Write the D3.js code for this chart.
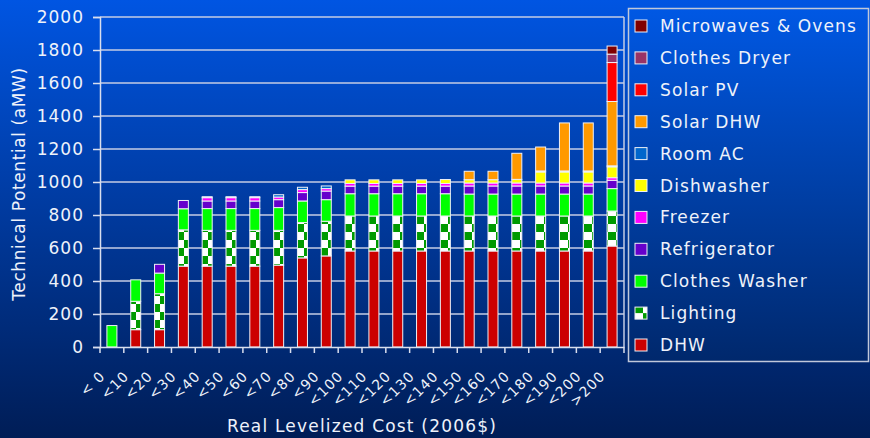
<!DOCTYPE html>
<html><head><meta charset="utf-8">
<script src="https://cdn.jsdelivr.net/npm/d3@7"></script>
<style>html,body{margin:0;padding:0;background:#001f5a;}svg{display:block;}</style>
</head><body>
<svg id="chart" width="870" height="438"></svg>
<script>
const categories = ["< 0","<10","<20","<30","<40","<50","<60","<70","<80","<90","<100","<110","<120","<130","<140","<150","<160","<170","<180","<190","<200",">200"];
const seriesNames = ["DHW","Lighting","Clothes Washer","Refrigerator","Freezer","Dishwasher","Room AC","Solar DHW","Solar PV","Clothes Dryer","Microwaves & Ovens"];
const DHW          = [0,105,105,490,490,490,490,496,540,552,582,582,582,582,582,582,582,582,582,582,582,612];
const Lighting     = [0,172,218,220,217,217,217,211,214,210,212,212,212,212,212,212,212,212,212,212,212,212];
const ClothesWasher= [130,130,125,128,132,132,132,138,131,131,135,135,135,135,135,133,133,133,133,133,133,136];
const Refrigerator = [0,0,53,50,46,46,46,48,51,52,46,46,46,46,46,49,49,49,49,49,49,50];
const Freezer      = [0,0,0,0,20,20,20,16,18,15,16,16,16,16,16,18,18,18,18,18,18,16];
const Dishwasher   = [0,0,0,0,0,0,0,0,0,0,22,22,22,22,24,20,20,22,67,67,67,66];
const RoomAC       = [0,0,0,0,6,6,6,14,14,16,0,0,0,0,0,0,0,0,6,6,6,6];
const SolarDHW     = [0,0,0,0,0,0,0,0,0,0,0,0,0,0,0,51,51,158,145,291,291,390];
const SolarPV      = [0,0,0,0,0,0,0,0,0,0,0,0,0,0,0,0,0,0,0,0,0,236];
const ClothesDryer = [0,0,0,0,0,0,0,0,0,0,0,0,0,0,0,0,0,0,0,0,0,51];
const Microwaves   = [0,0,0,0,0,0,0,0,0,0,0,0,0,0,0,0,0,0,0,0,0,49];
const yTicks = [0,200,400,600,800,1000,1200,1400,1600,1800,2000];
const seriesValues = [DHW,Lighting,ClothesWasher,Refrigerator,Freezer,Dishwasher,RoomAC,SolarDHW,SolarPV,ClothesDryer,Microwaves];
const colors = ["#cc0000","url(#light)","#00ff00","#6600cc","#ff00ff","#ffff00","#0066cc","#ff9900","#ff0000","#993366","#800000"];

const FONT = "DejaVu Sans, Verdana, sans-serif";
const svg = d3.select("#chart");
const defs = svg.append("defs");
const bg = defs.append("linearGradient").attr("id","bg").attr("x1",0).attr("y1",0).attr("x2",0).attr("y2",1);
bg.append("stop").attr("offset","0%").attr("stop-color","#0055e2");
bg.append("stop").attr("offset","100%").attr("stop-color","#001d56");
const lg = defs.append("linearGradient").attr("id","lg").attr("x1",0).attr("y1",0).attr("x2",0).attr("y2",1);
lg.append("stop").attr("offset","0%").attr("stop-color","#0058e4");
lg.append("stop").attr("offset","100%").attr("stop-color","#00286c");
const pat = defs.append("pattern").attr("id","light").attr("patternUnits","userSpaceOnUse").attr("width",16).attr("height",16);
pat.append("rect").attr("width",16).attr("height",16).attr("fill","#ffffff");
pat.append("rect").attr("x",8).attr("y",0).attr("width",8).attr("height",8).attr("fill","#009a00");
pat.append("rect").attr("x",0).attr("y",8).attr("width",8).attr("height",8).attr("fill","#009a00");

svg.append("rect").attr("width",870).attr("height",438).attr("fill","url(#bg)");

const x = d3.scaleBand().domain(categories).range([100,624]).paddingInner(0.58).paddingOuter(0.29);
const y = d3.scaleLinear().domain([0,2000]).range([347,17]);

// gridlines
svg.append("g").selectAll("line").data(yTicks.filter(d=>d>0)).join("line")
  .attr("x1",100).attr("x2",624).attr("y1",d=>y(d)).attr("y2",d=>y(d))
  .attr("stroke","#c4cce4").attr("stroke-width",1.5);
svg.append("line").attr("x1",624).attr("x2",624).attr("y1",y(2000)).attr("y2",y(0)).attr("stroke","#c4cce4").attr("stroke-width",1.5);

// stacked bars
const table = categories.map((c,i)=>{const o={cat:c}; seriesNames.forEach((s,k)=>o[s]=seriesValues[k][i]); return o;});
const stack = d3.stack().keys(seriesNames)(table);
svg.append("g").selectAll("g").data(stack).join("g")
  .attr("fill",(d,i)=>colors[i])
  .selectAll("rect").data(d=>d.filter(p=>p[1]-p[0]>0)).join("rect")
  .attr("x",d=>x(d.data.cat)).attr("width",x.bandwidth())
  .attr("y",d=>y(d[1])).attr("height",d=>y(d[0])-y(d[1]))
  .attr("stroke","#eef0f6").attr("stroke-width",1);

// axes
const axCol = "#d8deee";
const yAxis = svg.append("g").attr("transform","translate(100,0)")
  .call(d3.axisLeft(y).tickValues(yTicks).tickSize(7).tickPadding(9).tickFormat(d3.format("d")));
yAxis.select(".domain").attr("stroke",axCol).attr("stroke-width",1.5);
yAxis.selectAll(".tick line").attr("stroke",axCol).attr("stroke-width",1.5);
yAxis.selectAll("text").attr("fill","#eef2fa").style("font-family",FONT).style("font-size","17px").style("letter-spacing","1px");

const xAxis = svg.append("g").attr("transform","translate(0,347)")
  .call(d3.axisBottom(x).tickSize(0).tickFormat(""));
xAxis.select(".domain").attr("stroke",axCol).attr("stroke-width",1.5);
const bounds = categories.map(c=>x(c)-x.step()*x.paddingInner()/2).concat([624]);
svg.append("g").selectAll("line").data(bounds).join("line")
  .attr("x1",d=>d).attr("x2",d=>d).attr("y1",347).attr("y2",353)
  .attr("stroke",axCol).attr("stroke-width",1.5);
svg.append("g").selectAll("text").data(categories).join("text")
  .attr("transform",d=>`translate(${x(d)+x.bandwidth()/2-6},377) rotate(-45)`)
  .attr("text-anchor","end").attr("fill","#eef2fa")
  .style("font-family",FONT).style("font-size","14px").style("letter-spacing","1px")
  .text(d=>d);

svg.append("text").attr("x",362).attr("y",432).attr("text-anchor","middle").attr("fill","#eef2fa")
  .style("font-family",FONT).style("font-size","17px").style("letter-spacing","1.2px")
  .text("Real Levelized Cost (2006$)");
svg.append("text").attr("transform","translate(25,184) rotate(-90)").attr("text-anchor","middle").attr("fill","#eef2fa")
  .style("font-family",FONT).style("font-size","17px").style("letter-spacing","0.6px")
  .text("Technical Potential (aMW)");

// legend
svg.append("rect").attr("x",628.5).attr("y",8.5).attr("width",240).attr("height",353)
  .attr("fill","url(#lg)").attr("stroke","#c0c8da").attr("stroke-width",1.5);
const legendOrder = seriesNames.map((s,i)=>i).reverse();
const li = svg.append("g").selectAll("g").data(legendOrder).join("g")
  .attr("transform",(d,i)=>`translate(635,${26+i*31.9})`);
li.append("rect").attr("x",0).attr("y",-6).attr("width",12).attr("height",12)
  .attr("fill",d=>colors[d]).attr("stroke","#eef0f6").attr("stroke-width",1);
li.append("text").attr("x",25).attr("y",6).attr("fill","#eef2fa")
  .style("font-family",FONT).style("font-size","17px").style("letter-spacing","1.1px")
  .text(d=>seriesNames[d]);
</script>
</body></html>
